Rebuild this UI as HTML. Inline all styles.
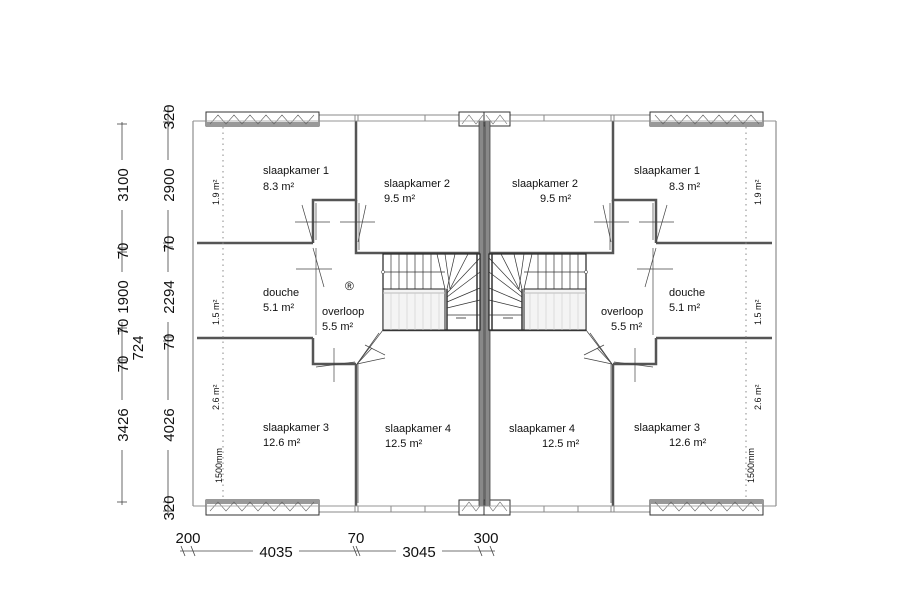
<!DOCTYPE html>
<html><head><meta charset="utf-8"><style>
body{margin:0;background:#fff}
svg{display:block}
text{font-family:"Liberation Sans",sans-serif;fill:#111}
</style></head><body>
<svg width="900" height="600" viewBox="0 0 900 600" xmlns="http://www.w3.org/2000/svg">
<defs>
<g id="half" fill="none" stroke="#333">
  <line x1="193" y1="121" x2="193" y2="506" stroke="#777" stroke-width="1"/>
  <line x1="193" y1="121" x2="206" y2="121" stroke="#777"/>
  <line x1="193" y1="506" x2="206" y2="506" stroke="#777"/>
  <rect x="319" y="115" width="140" height="6" stroke="#888" stroke-width="1"/>
  <line x1="355" y1="115" x2="355" y2="121" stroke="#888"/>
  <line x1="358" y1="115" x2="358" y2="121" stroke="#888"/>
  <line x1="425" y1="115" x2="425" y2="121" stroke="#888"/>
  <rect x="319" y="506" width="140" height="6" stroke="#888" stroke-width="1"/>
  <line x1="355" y1="506" x2="355" y2="512" stroke="#888"/>
  <line x1="358" y1="506" x2="358" y2="512" stroke="#888"/>
  <line x1="391" y1="506" x2="391" y2="512" stroke="#888"/>
  <line x1="425" y1="506" x2="425" y2="512" stroke="#888"/>
  <rect x="206" y="112" width="113" height="14" fill="#fff" stroke="#333"/>
  <rect x="206" y="122" width="113" height="4" fill="#999" stroke="none"/>
  <polyline points="210,124 218,115 226,124 234,115 242,124 250,115 258,124 266,115 274,124 282,115 290,124 298,115 306,124 314,115" stroke="#666" stroke-width="0.6"/>
  <rect x="206" y="500" width="113" height="15" fill="#fff" stroke="#333"/>
  <rect x="206" y="500" width="113" height="4" fill="#999" stroke="none"/>
  <polyline points="210,511 218,502 226,511 234,502 242,511 250,502 258,511 266,502 274,511 282,502 290,511 298,502 306,511 314,502" stroke="#666" stroke-width="0.6"/>
  <rect x="459" y="112" width="26" height="14" fill="#fff" stroke="#333"/>
  <rect x="459" y="500" width="26" height="15" fill="#fff" stroke="#333"/>
  <polyline points="462,124 469,115 476,124 483,115" stroke="#666" stroke-width="0.6"/>
  <polyline points="462,511 469,502 476,511 483,502" stroke="#666" stroke-width="0.6"/>
  <rect x="479" y="121" width="5" height="385" fill="#888" stroke="#444" stroke-width="0.8"/>
  <g stroke="#555" stroke-width="2.5">
    <polyline points="197,243 313,243"/>
    <polyline points="197,338 313,338"/>
    <polyline points="313,243 313,200 356,200 356,121"/>
    <polyline points="356,200 356,253 480,253"/>
    <polyline points="313,338 313,364 356,364"/>
    <line x1="356" y1="364" x2="356" y2="506"/>
    <line x1="383" y1="330" x2="480" y2="330"/>
  </g>
  <g stroke="#444" stroke-width="0.7">
    <line x1="316" y1="203" x2="316" y2="240"/>
    <line x1="359" y1="203" x2="359" y2="250"/>
    <line x1="302" y1="205" x2="313" y2="243"/>
    <line x1="295" y1="222" x2="330" y2="222"/>
    <line x1="340" y1="222" x2="375" y2="222"/>
    <line x1="366" y1="205" x2="358" y2="242"/>
    <line x1="313" y1="248" x2="324" y2="287"/>
    <line x1="296" y1="269" x2="332" y2="269"/>
    <line x1="316" y1="248" x2="316" y2="335"/>
    <line x1="316" y1="367" x2="355" y2="362"/>
    <line x1="334" y1="348" x2="334" y2="382"/>
    <line x1="358" y1="364" x2="358" y2="503"/>
    <line x1="357" y1="364" x2="383" y2="330"/>
    <line x1="357" y1="364" x2="379" y2="333"/>
    <line x1="357" y1="364" x2="385" y2="358"/>
    <line x1="357" y1="364" x2="372" y2="348"/>
    <line x1="365" y1="345" x2="385" y2="355"/>
  </g>
  <line x1="223" y1="127" x2="223" y2="497" stroke="#888" stroke-width="1" stroke-dasharray="1.5,4"/>
  <rect x="383" y="254" width="97" height="76" fill="#fff" stroke="#222" stroke-width="1.2"/>
  <rect x="383" y="289" width="62" height="41" fill="#f4f4f4" stroke="#222" stroke-width="1"/>
  <line x1="383" y1="293" x2="445" y2="293" stroke="#bbb"/>
  <g stroke="#333" stroke-width="0.7">
    <line x1="391" y1="254" x2="391" y2="289"/><line x1="399" y1="254" x2="399" y2="289"/>
    <line x1="407" y1="254" x2="407" y2="289"/><line x1="415" y1="254" x2="415" y2="289"/>
    <line x1="423" y1="254" x2="423" y2="289"/><line x1="431" y1="254" x2="431" y2="289"/>
    <line x1="383" y1="272" x2="445" y2="272"/>
    <line x1="437" y1="254" x2="445" y2="289"/><line x1="445" y1="254" x2="450" y2="289"/>
    <line x1="455" y1="254" x2="447" y2="289"/><line x1="468" y1="254" x2="450" y2="289"/>
    <line x1="480" y1="258" x2="447" y2="293"/><line x1="480" y1="272" x2="447" y2="297"/>
    <line x1="480" y1="288" x2="447" y2="302"/><line x1="480" y1="300" x2="447" y2="308"/>
    <line x1="447" y1="315" x2="480" y2="315"/>
    <line x1="447" y1="289" x2="447" y2="330" stroke-width="1.5"/>
    <line x1="477" y1="254" x2="477" y2="330" stroke-width="1.5"/>
  </g>
  <g stroke="#ccc" stroke-width="0.6">
    <line x1="391" y1="293" x2="391" y2="330"/><line x1="399" y1="293" x2="399" y2="330"/>
    <line x1="407" y1="293" x2="407" y2="330"/><line x1="415" y1="293" x2="415" y2="330"/>
    <line x1="423" y1="293" x2="423" y2="330"/><line x1="431" y1="293" x2="431" y2="330"/>
    <line x1="439" y1="293" x2="439" y2="330"/>
  </g>
  <line x1="456" y1="318" x2="466" y2="318" stroke="#555"/>
  <circle cx="383" cy="272" r="1.5" fill="#fff" stroke="#555" stroke-width="0.6"/>
</g>
</defs>
<use href="#half"/>
<use href="#half" transform="translate(969,0) scale(-1,1)"/>
<line x1="193" y1="121" x2="776" y2="121" stroke="#999" stroke-width="0.8"/>
<line x1="193" y1="506" x2="776" y2="506" stroke="#999" stroke-width="0.8"/>

<g font-size="11">
<text x="263" y="174">slaapkamer 1</text><text x="263" y="190">8.3 m²</text>
<text x="384" y="187">slaapkamer 2</text><text x="384" y="202">9.5 m²</text>
<text x="263" y="296">douche</text><text x="263" y="311">5.1 m²</text>
<text x="322" y="315">overloop</text><text x="322" y="330">5.5 m²</text>
<text x="345" y="290" font-size="12">®</text>
<text x="263" y="431">slaapkamer 3</text><text x="263" y="446">12.6 m²</text>
<text x="385" y="432">slaapkamer 4</text><text x="385" y="447">12.5 m²</text>
<text x="512" y="187">slaapkamer 2</text><text x="540" y="202">9.5 m²</text>
<text x="634" y="174">slaapkamer 1</text><text x="669" y="190">8.3 m²</text>
<text x="669" y="296">douche</text><text x="669" y="311">5.1 m²</text>
<text x="601" y="315">overloop</text><text x="611" y="330">5.5 m²</text>
<text x="509" y="432">slaapkamer 4</text><text x="542" y="447">12.5 m²</text>
<text x="634" y="431">slaapkamer 3</text><text x="669" y="446">12.6 m²</text>
</g>
<g font-size="9">
<text transform="translate(219,205) rotate(-90)">1.9 m²</text>
<text transform="translate(219,325) rotate(-90)">1.5 m²</text>
<text transform="translate(219,410) rotate(-90)">2.6 m²</text>
<text transform="translate(222,483) rotate(-90)">1500mm</text>
<text transform="translate(761,205) rotate(-90)">1.9 m²</text>
<text transform="translate(761,325) rotate(-90)">1.5 m²</text>
<text transform="translate(761,410) rotate(-90)">2.6 m²</text>
<text transform="translate(754,483) rotate(-90)">1500mm</text>
</g>

<g stroke="#444" stroke-width="0.8">
  <line x1="168" y1="106" x2="168" y2="515"/>
  <line x1="122" y1="122" x2="122" y2="505"/>
  <line x1="180" y1="551" x2="495" y2="551"/>
  <g>
    <line x1="163" y1="111" x2="173" y2="111"/><line x1="163" y1="122" x2="173" y2="122"/>
    <line x1="163" y1="243" x2="173" y2="243"/><line x1="163" y1="247" x2="173" y2="247"/>
    <line x1="163" y1="337" x2="173" y2="337"/><line x1="163" y1="341" x2="173" y2="341"/>
    <line x1="163" y1="502" x2="173" y2="502"/><line x1="163" y1="511" x2="173" y2="511"/>
    <line x1="117" y1="124" x2="127" y2="124"/><line x1="117" y1="248" x2="127" y2="248"/>
    <line x1="117" y1="252" x2="127" y2="252"/><line x1="117" y1="328" x2="127" y2="328"/>
    <line x1="117" y1="331" x2="127" y2="331"/><line x1="117" y1="360" x2="127" y2="360"/>
    <line x1="117" y1="363" x2="127" y2="363"/><line x1="117" y1="502" x2="127" y2="502"/>
    <line x1="181" y1="546" x2="185" y2="556"/><line x1="191" y1="546" x2="195" y2="556"/>
    <line x1="353" y1="546" x2="357" y2="556"/><line x1="356" y1="546" x2="360" y2="556"/>
    <line x1="478" y1="546" x2="482" y2="556"/><line x1="490" y1="546" x2="494" y2="556"/>
  </g>
</g>
<g font-size="15" text-anchor="middle">
  <rect x="160" y="160" width="16" height="50" fill="#fff"/>
  <rect x="160" y="272" width="16" height="50" fill="#fff"/>
  <rect x="160" y="400" width="16" height="50" fill="#fff"/>
  <rect x="114" y="160" width="16" height="50" fill="#fff"/>
  <rect x="114" y="272" width="16" height="50" fill="#fff"/>
  <rect x="114" y="400" width="16" height="50" fill="#fff"/>
  <text transform="translate(174,117) rotate(-90)">320</text>
  <text transform="translate(174,185) rotate(-90)">2900</text>
  <text transform="translate(174,244) rotate(-90)">70</text>
  <text transform="translate(174,297) rotate(-90)">2294</text>
  <text transform="translate(174,342) rotate(-90)">70</text>
  <text transform="translate(174,425) rotate(-90)">4026</text>
  <text transform="translate(174,508) rotate(-90)">320</text>
  <text transform="translate(128,185) rotate(-90)">3100</text>
  <text transform="translate(128,251) rotate(-90)">70</text>
  <text transform="translate(128,297) rotate(-90)">1900</text>
  <text transform="translate(128,327) rotate(-90)">70</text>
  <text transform="translate(143,348) rotate(-90)">724</text>
  <text transform="translate(128,364) rotate(-90)">70</text>
  <text transform="translate(128,425) rotate(-90)">3426</text>
  <rect x="253" y="543" width="46" height="16" fill="#fff"/>
  <rect x="396" y="543" width="46" height="16" fill="#fff"/>
  <text x="188" y="543">200</text>
  <text x="276" y="557">4035</text>
  <text x="356" y="543">70</text>
  <text x="419" y="557">3045</text>
  <text x="486" y="543">300</text>
</g>
</svg>
</body></html>
